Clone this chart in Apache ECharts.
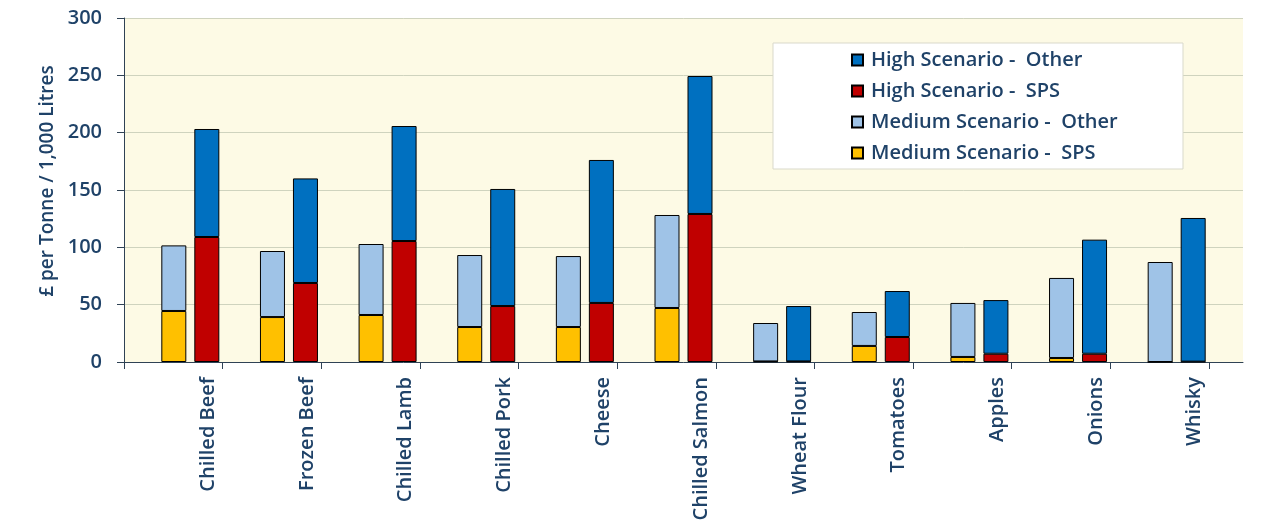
<!DOCTYPE html>
<html>
<head>
<meta charset="utf-8">
<script src="https://cdn.jsdelivr.net/npm/echarts@6/dist/echarts.min.js"></script>
<style>
html,body{margin:0;padding:0;background:#fff;}
#c{width:1280px;height:527px;}
</style>
</head>
<body>
<div id="c"></div>
<script>
var categories = ['Chilled Beef','Frozen Beef','Chilled Lamb','Chilled Pork','Cheese','Chilled Salmon','Wheat Flour','Tomatoes','Apples','Onions','Whisky'];
var mediumSPS   = [44.5, 39.2, 41.0, 30.5, 30.5, 47.1, 0.5, 14.0, 4.4, 3.5, 0];
var mediumOther = [57.2, 57.6, 61.9, 62.8, 61.9, 81.1, 33.5, 29.6, 47.1, 69.8, 87.2];
var highSPS     = [109.0, 68.9, 105.5, 48.8, 51.5, 129.1, 0.5, 21.8, 7.2, 7.2, 0.3];
var highOther   = [94.2, 91.2, 100.3, 102.1, 124.7, 120.3, 48.3, 40.1, 46.8, 99.5, 125.3];
var yTicks = [0, 50, 100, 150, 200, 250, 300];
var seriesNames = ['High Scenario -  Other','High Scenario -  SPS','Medium Scenario -  Other','Medium Scenario -  SPS'];

var textColor = '#1F4268';
var axisColor = '#2F4255';
var font = 'Open Sans';

var chart = echarts.init(document.getElementById('c'), null, {renderer:'canvas'});
var option = {
  animation: false,
  backgroundColor: '#ffffff',
  textStyle: {fontFamily: font},
  grid: [
    {left:124, top:18, width:1119, height:344, show:true, backgroundColor:'#FDFAE5', borderWidth:0},
    {left:124, top:18, width:1085, height:344},
    {left:141, top:18, width:1085, height:344},
    {left:159, top:18, width:1085, height:344}
  ],
  xAxis: [
    {gridIndex:0, type:'value', min:0, max:1, axisLine:{show:true, lineStyle:{color:axisColor, width:1}}, axisTick:{show:false}, axisLabel:{show:false}, splitLine:{show:false}},
    {gridIndex:1, type:'category', data:categories, axisLine:{show:false}, axisTick:{show:true, interval:0, length:7, lineStyle:{color:axisColor}}, axisLabel:{show:false}},
    {gridIndex:2, type:'category', data:categories, show:false},
    {gridIndex:3, type:'category', data:categories, axisLine:{show:false}, axisTick:{show:false},
      axisLabel:{interval:0, rotate:90, fontSize:20, fontWeight:600, color:textColor, margin:15, fontFamily:font}}
  ],
  yAxis: [
    {gridIndex:0, type:'value', min:yTicks[0], max:yTicks[yTicks.length-1], interval:50,
      name:'£ per Tonne / 1,000 Litres', nameLocation:'middle', nameGap:67, nameRotate:90,
      nameTextStyle:{fontSize:19, fontWeight:600, color:textColor, fontFamily:font, padding:[0,0,0,18]},
      axisLine:{show:true, lineStyle:{color:axisColor, width:1}},
      axisTick:{show:true, length:7, lineStyle:{color:axisColor}},
      axisLabel:{fontSize:20, fontWeight:600, color:textColor, margin:22, fontFamily:font},
      splitLine:{show:true, lineStyle:{color:'#CFD3BE', width:1}}},
    {gridIndex:1, type:'value', min:0, max:300, show:false, splitLine:{show:false}},
    {gridIndex:2, type:'value', min:0, max:300, show:false, splitLine:{show:false}},
    {gridIndex:3, type:'value', min:0, max:300, show:false, splitLine:{show:false}}
  ],
  legend: {
    orient:'vertical', left:846, top:45, itemWidth:11, itemHeight:11, itemGap:11,
    data: seriesNames, icon:'rect',
    textStyle:{fontSize:20, fontWeight:600, color:textColor, fontFamily:font, lineHeight:20, padding:[0,0,0,3]}
  },
  graphic: [
    {type:'rect', z:1, shape:{x:773, y:43, width:410, height:126}, style:{fill:'#ffffff', stroke:'#D9D9CB', lineWidth:1}}
  ],
  series: [
    {name:seriesNames[3], type:'bar', xAxisIndex:2, yAxisIndex:2, stack:'med', data:mediumSPS, barWidth:25, barGap:'32%',
      itemStyle:{color:'#FFC000', borderColor:'#000', borderWidth:1}},
    {name:seriesNames[2], type:'bar', xAxisIndex:2, yAxisIndex:2, stack:'med', data:mediumOther, barWidth:25, barGap:'32%',
      itemStyle:{color:'#9FC3E7', borderColor:'#000', borderWidth:1}},
    {name:seriesNames[1], type:'bar', xAxisIndex:2, yAxisIndex:2, stack:'high', data:highSPS, barWidth:25, barGap:'32%',
      itemStyle:{color:'#C00000', borderColor:'#000', borderWidth:1}},
    {name:seriesNames[0], type:'bar', xAxisIndex:2, yAxisIndex:2, stack:'high', data:highOther, barWidth:25, barGap:'32%',
      itemStyle:{color:'#0070C0', borderColor:'#000', borderWidth:1}}
  ]
};
chart.setOption(option);
</script>
</body>
</html>
